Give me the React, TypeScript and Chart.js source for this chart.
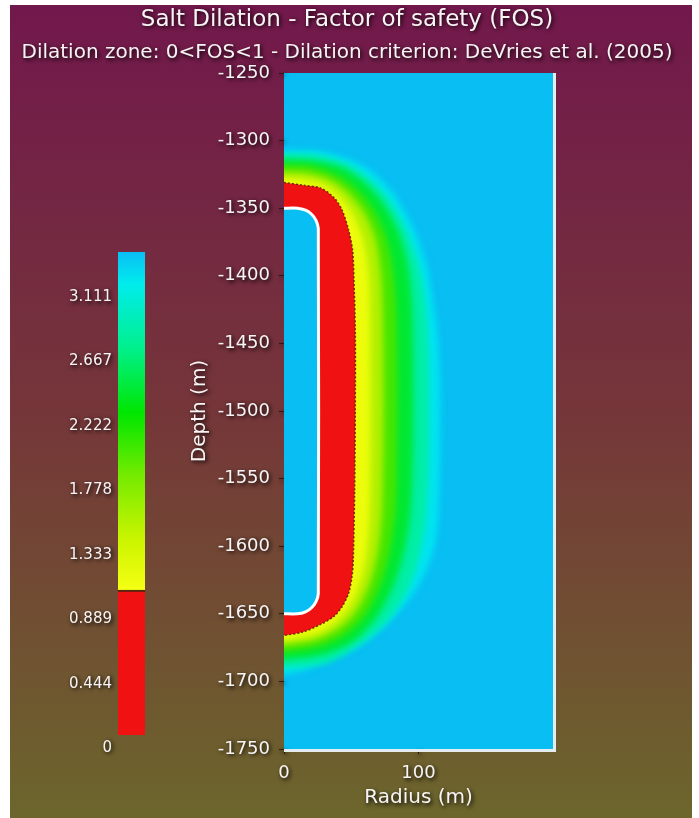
import React, { useEffect, useRef } from 'react';
import { Chart, registerables } from 'chart.js';

// ---------- text ----------
const TITLE = 'Salt Dilation - Factor of safety (FOS)';
const SUBTITLE = 'Dilation zone: 0<FOS<1 - Dilation criterion: DeVries et al. (2005)';
const X_TITLE = 'Radius (m)';
const Y_TITLE = 'Depth (m)';

// ---------- axes ----------
const X_MIN = 0;
const X_MAX = 200;
const Y_MIN = -1750;
const Y_MAX = -1250;
const X_TICKS = [0, 100];
const Y_TICKS = [-1750, -1700, -1650, -1600, -1550, -1500, -1450, -1400, -1350, -1300, -1250];

// ---------- field (radius m, depth m) ----------
const FOS_LEVELS = [1.0, 1.333, 1.778, 2.222, 2.667, 3.111, 3.333];

const CAVERN = [
  [0, -1350], [10, -1350], [16, -1351.5], [20.5, -1354.5], [23.8, -1359], [25.5, -1365],
  [25.5, -1635], [23.8, -1641], [20.5, -1645.5], [16, -1648.5], [10, -1650], [0, -1650],
];

const CONTOUR_1_000 = [
  [0, -1331], [14, -1333], [27, -1335], [37, -1342], [43, -1351], [48, -1366], [51, -1381],
  [52, -1403], [53, -1440], [53, -1500], [52.5, -1560], [51.5, -1610], [50.5, -1623],
  [48, -1635], [43, -1645], [37, -1652], [27, -1658], [14, -1663.5], [0, -1666],
];
const CONTOUR_1_333 = [
  [0, -1328], [15, -1329], [30, -1333], [42, -1342], [52, -1356], [59, -1374], [63, -1398],
  [64, -1425], [64.5, -1500], [64, -1570], [62, -1600], [58, -1622], [50, -1642],
  [38, -1656], [22, -1665], [0, -1669],
];
const CONTOUR_1_778 = [
  [0, -1323], [17, -1324], [34, -1329], [48, -1339], [60, -1354], [68, -1373], [72, -1398],
  [73.5, -1430], [74, -1500], [73, -1572], [70, -1603], [64, -1627], [55, -1646],
  [42, -1660], [24, -1669], [0, -1673],
];
const CONTOUR_2_222 = [
  [0, -1318], [19, -1319], [38, -1325], [54, -1336], [67, -1352], [76, -1372], [81, -1396],
  [83.5, -1430], [84, -1505], [83, -1570], [79, -1602], [72, -1628], [61, -1650],
  [46, -1665], [26, -1674], [0, -1678],
];
const CONTOUR_2_667 = [
  [0, -1314], [22, -1315], [43, -1320], [60, -1331], [74, -1347], [85, -1367], [92, -1392],
  [95, -1420], [96, -1460], [96, -1520], [94, -1575], [89, -1605], [81, -1630],
  [69, -1652], [52, -1670], [29, -1680], [0, -1684],
];
const CONTOUR_3_111 = [
  [0, -1310], [25, -1311], [46, -1317], [62, -1327], [77, -1342], [88, -1360], [97, -1382],
  [103, -1406], [106, -1432], [107.5, -1470], [107.5, -1530], [105, -1583], [99, -1613],
  [90, -1636], [76, -1656], [57, -1672], [32, -1686], [0, -1690],
];
const CONTOUR_3_333 = [
  [0, -1307], [27, -1308], [49, -1314], [64, -1322], [79, -1336], [89, -1351], [99, -1371],
  [107, -1396], [111, -1420], [114, -1440], [116, -1477], [116, -1536], [114, -1588],
  [109, -1610], [100, -1629], [90, -1643], [74, -1660], [54, -1675], [34, -1684],
  [14, -1692], [0, -1695],
];

// colour of band below each level (index 0: FOS < 1)
const BAND_COLORS = [
  'rgb(240,18,18)',
  'rgb(236,252,10)',
  'rgb(178,240,0)',
  'rgb(70,230,0)',
  'rgb(0,232,50)',
  'rgb(0,238,165)',
  'rgb(0,228,240)',
];
const FIELD_COLOR = 'rgb(8,190,243)';

// ---------- colour bar ----------
const CB_MIN = 0;
const CB_MAX = 3.333;
const CB_TICK_VALUES = [0, 0.444, 0.889, 1.333, 1.778, 2.222, 2.667, 3.111];
const CB_TICK_LABELS = ['0', '0.444', '0.889', '1.333', '1.778', '2.222', '2.667', '3.111'];
const CB_RED_RANGE = [0, 1.0];
const CB_GRAD_RANGE = [1.0, 3.333];
const CB_STOP_VALUES = [1.0, 1.333, 1.778, 2.222, 2.667, 3.111, 3.333];
const CB_STOP_COLORS = [
  'rgb(245,255,20)',
  'rgb(205,245,0)',
  'rgb(120,235,0)',
  'rgb(0,230,0)',
  'rgb(0,240,140)',
  'rgb(0,236,236)',
  'rgb(10,190,245)',
];

// ---------- style ----------
const FONT = '"DejaVu Sans", Verdana, sans-serif';
const TEXT_COLOR = '#f8f4f4';
const BG_STOPS = [
  [0, 'rgb(114,24,76)'],
  [0.5, 'rgb(117,54,57)'],
  [1, 'rgb(108,102,44)'],
];

const bandBlur = {
  id: 'bandBlur',
  beforeDatasetDraw(chart: any, args: any) {
    const ds: any = chart.data.datasets[args.index];
    if (ds && ds.blurPx) {
      chart.ctx.save();
      chart.ctx.filter = `blur(${ds.blurPx}px)`;
    }
  },
  afterDatasetDraw(chart: any, args: any) {
    const ds: any = chart.data.datasets[args.index];
    if (ds && ds.blurPx) chart.ctx.restore();
  },
};

Chart.register(bandBlur as any, ...registerables);

const setShadow = (ctx: CanvasRenderingContext2D) => {
  ctx.shadowColor = 'rgba(0,0,0,1)';
  ctx.shadowBlur = 4;
  ctx.shadowOffsetX = 1.5;
  ctx.shadowOffsetY = 1.5;
};
const clearShadow = (ctx: CanvasRenderingContext2D) => {
  ctx.shadowColor = 'rgba(0,0,0,0)';
  ctx.shadowBlur = 0;
  ctx.shadowOffsetX = 0;
  ctx.shadowOffsetY = 0;
};

const toXY = (pts: number[][]) => pts.map(([r, d]) => ({ x: r, y: d }));
// same contour, with its two axis ends carried a little past the left edge (hidden by the clip)
const toXYExtended = (pts: number[][]) => {
  const xy = toXY(pts);
  return [{ x: X_MIN - 10, y: xy[0].y }, ...xy, { x: X_MIN - 10, y: xy[xy.length - 1].y }];
};

export default function App() {
  const mainRef = useRef<HTMLCanvasElement | null>(null);
  const cbRef = useRef<HTMLCanvasElement | null>(null);

  useEffect(() => {
    const contours = [
      CONTOUR_1_000, CONTOUR_1_333, CONTOUR_1_778, CONTOUR_2_222,
      CONTOUR_2_667, CONTOUR_3_111, CONTOUR_3_333,
    ];
    const datasets: any[] = [
      {
        label: 'Cavern',
        data: toXY(CAVERN),
        borderColor: '#ffffff',
        borderWidth: 3,
        backgroundColor: FIELD_COLOR,
        fill: 'shape',
        pointRadius: 0,
        tension: 0.2,
        borderJoinStyle: 'round',
      },
      {
        label: 'FOS < ' + FOS_LEVELS[0],
        data: toXY(contours[0]),
        borderColor: 'rgba(90,28,0,0.85)',
        borderWidth: 1.5,
        borderDash: [2, 2],
        backgroundColor: BAND_COLORS[0],
        fill: 'shape',
        pointRadius: 0,
        tension: 0.3,
      },
    ];
    for (let k = 1; k < contours.length; k++) {
      datasets.push({
        label: 'FOS < ' + FOS_LEVELS[k],
        data: toXYExtended(contours[k]),
        borderColor: 'rgba(0,0,0,0)',
        borderWidth: 0,
        backgroundColor: BAND_COLORS[k],
        fill: 'shape',
        pointRadius: 0,
        tension: 0.3,
        blurPx: 3,
      });
    }

    const mainPlugin = {
      id: 'bgShadow',
      beforeDraw(chart: any) {
        const { ctx, width, height, chartArea } = chart;
        ctx.save();
        const g = ctx.createLinearGradient(0, 0, 0, height);
        BG_STOPS.forEach(([o, c]) => g.addColorStop(o as number, c as string));
        ctx.fillStyle = g;
        ctx.fillRect(0, 0, width, height);
        ctx.fillStyle = FIELD_COLOR;
        ctx.fillRect(chartArea.left, chartArea.top, chartArea.right - chartArea.left, chartArea.bottom - chartArea.top);
        ctx.restore();
        setShadow(ctx);
      },
      beforeDatasetsDraw(chart: any) {
        clearShadow(chart.ctx);
      },
      afterDatasetsDraw(chart: any) {
        const { ctx, chartArea } = chart;
        ctx.save();
        ctx.strokeStyle = '#e4ecef';
        ctx.lineWidth = 3;
        ctx.beginPath();
        ctx.moveTo(chartArea.right + 1.5, chartArea.top);
        ctx.lineTo(chartArea.right + 1.5, chartArea.bottom + 3);
        ctx.moveTo(chartArea.left, chartArea.bottom + 1.5);
        ctx.lineTo(chartArea.right + 3, chartArea.bottom + 1.5);
        ctx.stroke();
        ctx.restore();
      },
    };

    const tickFont = { family: FONT, size: 18 };
    const axisTitleFont = { family: FONT, size: 20, lineHeight: 1.2 };
    const main = new Chart(mainRef.current as HTMLCanvasElement, {
      type: 'line',
      data: { datasets },
      options: {
        animation: false,
        responsive: false,
        maintainAspectRatio: false,
        layout: { padding: { left: 0, right: 8, top: 0, bottom: 0 } },
        plugins: {
          legend: { display: false },
          tooltip: { enabled: false },
          title: {
            display: true,
            text: TITLE,
            color: TEXT_COLOR,
            font: { family: FONT, size: 23, weight: 'normal', lineHeight: 1.2 },
            padding: { top: 1.2, bottom: 3 },
          },
          subtitle: {
            display: true,
            text: SUBTITLE,
            color: TEXT_COLOR,
            font: { family: FONT, size: 20, weight: 'normal', lineHeight: 1.2 },
            padding: { top: 4.2, bottom: 8 },
          },
        },
        scales: {
          x: {
            type: 'linear',
            position: 'bottom',
            min: X_MIN,
            max: X_MAX,
            afterBuildTicks: (s: any) => { s.ticks = X_TICKS.map((v) => ({ value: v })); },
            afterFit: (s: any) => { s.height = 69; },
            ticks: {
              color: TEXT_COLOR, font: tickFont, padding: 9, maxRotation: 0, autoSkip: false,
              callback: (v: any) => String(v),
            },
            grid: { drawOnChartArea: false, drawTicks: true, tickLength: 5, tickColor: '#2a1a12', tickWidth: 1 },
            border: { display: false },
            title: {
              display: true,
              text: X_TITLE,
              color: TEXT_COLOR,
              font: axisTitleFont,
              padding: { top: 0, bottom: 8 },
            },
          },
          y: {
            type: 'linear',
            position: 'left',
            min: Y_MIN,
            max: Y_MAX,
            afterBuildTicks: (s: any) => { s.ticks = Y_TICKS.map((v) => ({ value: v })); },
            afterFit: (s: any) => { s.width = 274; },
            ticks: {
              color: TEXT_COLOR, font: tickFont, padding: 9, autoSkip: false,
              callback: (v: any) => String(v),
            },
            grid: { drawOnChartArea: false, drawTicks: true, tickLength: 5, tickColor: '#2a1a12', tickWidth: 1 },
            border: { display: false },
            title: {
              display: true,
              text: Y_TITLE,
              color: TEXT_COLOR,
              font: axisTitleFont,
              padding: { top: 178, bottom: 0 },
            },
          },
          yRight: {
            type: 'linear',
            position: 'right',
            display: true,
            afterFit: (s: any) => { s.width = 131; },
            ticks: { display: false },
            grid: { display: false, drawTicks: false },
            border: { display: false },
          },
        },
      } as any,
      plugins: [mainPlugin as any],
    });

    const cbPlugin = {
      id: 'cbShadow',
      beforeDraw(chart: any) { setShadow(chart.ctx); },
      beforeDatasetsDraw(chart: any) { clearShadow(chart.ctx); },
    };

    const gradientFill = (ctx: any) => {
      const chart = ctx.chart;
      const { chartArea, scales } = chart;
      if (!chartArea) return CB_STOP_COLORS[0];
      const y0 = scales.y.getPixelForValue(CB_GRAD_RANGE[0]);
      const y1 = scales.y.getPixelForValue(CB_GRAD_RANGE[1]);
      const g = chart.ctx.createLinearGradient(0, y0, 0, y1);
      const span = CB_GRAD_RANGE[1] - CB_GRAD_RANGE[0];
      CB_STOP_VALUES.forEach((v, i) => g.addColorStop((v - CB_GRAD_RANGE[0]) / span, CB_STOP_COLORS[i]));
      return g;
    };

    const cb = new Chart(cbRef.current as HTMLCanvasElement, {
      type: 'bar',
      data: {
        labels: ['FOS'],
        datasets: [
          {
            label: 'FOS < 1',
            data: [CB_RED_RANGE as any],
            backgroundColor: BAND_COLORS[0],
            borderColor: 'rgba(70,30,10,0.9)',
            borderWidth: { top: 2, left: 0, right: 0, bottom: 0 },
            borderSkipped: false,
            grouped: false,
            barPercentage: 1,
            categoryPercentage: 1,
          },
          {
            label: 'FOS >= 1',
            data: [CB_GRAD_RANGE as any],
            backgroundColor: gradientFill,
            borderWidth: 0,
            grouped: false,
            barPercentage: 1,
            categoryPercentage: 1,
          },
        ] as any,
      },
      options: {
        animation: false,
        responsive: false,
        maintainAspectRatio: false,
        layout: { padding: { left: 0, right: 0, top: 2, bottom: 25 } },
        plugins: { legend: { display: false }, tooltip: { enabled: false } },
        scales: {
          x: { type: 'category', display: false },
          y: {
            type: 'linear',
            min: CB_MIN,
            max: CB_MAX,
            afterBuildTicks: (s: any) => { s.ticks = CB_TICK_VALUES.map((v) => ({ value: v })); },
            afterFit: (s: any) => { s.width = 98; },
            ticks: {
              color: TEXT_COLOR,
              font: { family: FONT, size: 15 },
              padding: 6,
              labelOffset: 13,
              autoSkip: false,
              callback: (_v: any, i: number) => CB_TICK_LABELS[i],
            },
            grid: { display: false, drawTicks: false },
            border: { display: false },
          },
        },
      } as any,
      plugins: [cbPlugin as any],
    });

    return () => {
      main.destroy();
      cb.destroy();
    };
  }, []);

  return (
    <div style={{ position: 'absolute', left: 10, top: 5, width: 682, height: 813 }}>
      <canvas ref={mainRef} width={682} height={813} style={{ position: 'absolute', left: 0, top: 0, width: 682, height: 813 }} />
      <canvas ref={cbRef} width={125} height={523} style={{ position: 'absolute', left: 10, top: 232, width: 125, height: 523 }} />
    </div>
  );
}
